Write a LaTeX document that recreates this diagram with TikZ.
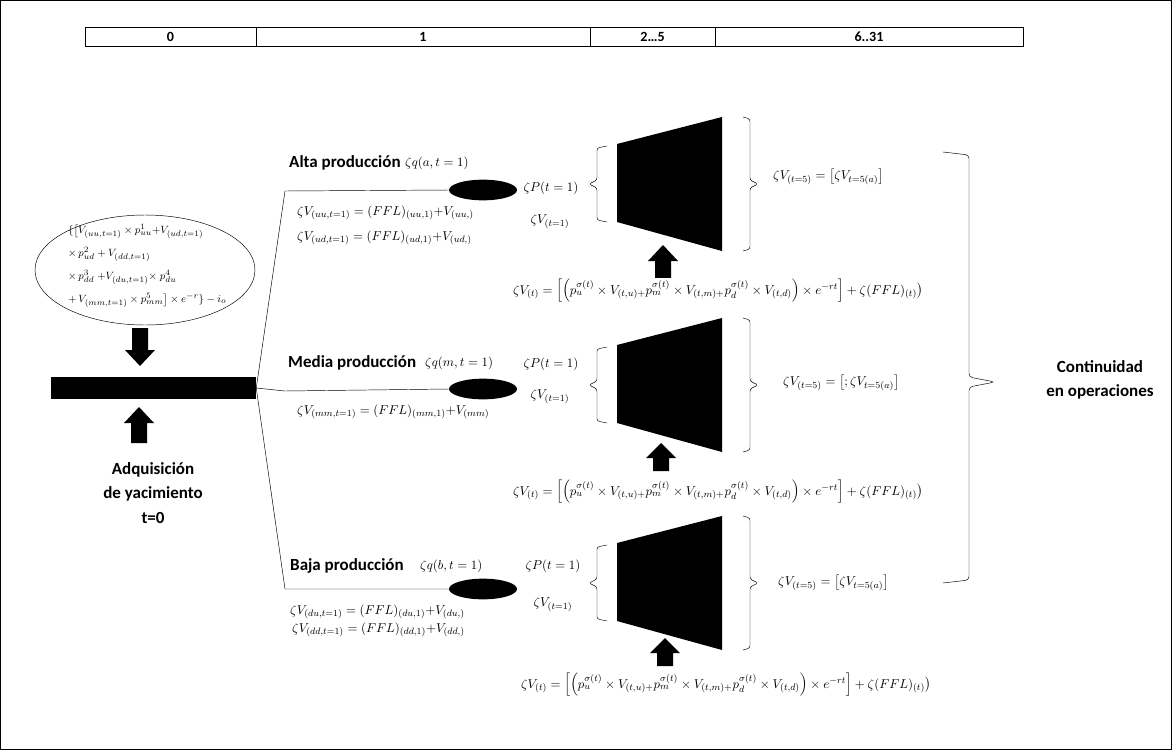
\documentclass[tikz,border=0pt]{standalone}
\usepackage{fontspec}
\setmainfont{Carlito}
\usepackage{amsmath}
\usetikzlibrary{shapes}
\usetikzlibrary{positioning}
\usetikzlibrary{calc}

\begin{document}
\begin{tikzpicture}[x=0.03cm, y=-0.03cm,
  lbl/.style={font=\fontsize{14.5}{21}\selectfont\bfseries, inner sep=0pt},
  frm/.style={font=\fontsize{11}{13}\selectfont, inner sep=0pt},
  sfrm/.style={font=\fontsize{9.5}{11}\selectfont, inner sep=0pt, anchor=west},
  blob/.style={ellipse, fill=black, minimum width=2.04cm, minimum height=0.62cm, inner sep=0pt},
  hcell/.style={inner sep=0pt, font=\fontsize{12}{14}\selectfont\bfseries}]

 \useasboundingbox (0,0) rectangle (1172,750);
 \draw (0.5,0.5) rectangle (1171.5,749.5);

 %header
 \foreach \a/\b/\name/\t in {85/256/h0/0, 256/590/h1/1, 590/715/h2/{2…5}, 715/1023/h3/{6..31}} {
        \draw[thick] (\a,27) rectangle (\b,46);
        \node[hcell] (\name) at ({(\a+\b)/2},36.5) {\t};
 }

 %level 0
 \node[draw, ellipse, minimum width=6.6cm, minimum height=3.3cm, inner sep=0pt] (ell0) at (145,270) {};
 \node[sfrm] (f1) at (68,231) {$\{\big[V_{(uu,t=1)}\times p^1_{uu}{+}V_{(ud,t=1)}$};
 \node[sfrm] (f2) at (68,254) {$\times\, p^2_{ud}+V_{(dd,t=1)}$};
 \node[sfrm] (f3) at (68,277) {$\times\, p^3_{dd}\;{+}V_{(du,t=1)}{\times}\; p^4_{du}$};
 \node[sfrm] (f4) at (68,300) {$+\,V_{(mm,t=1)}\times p^5_{mm}\big]\times e^{-r}\}-i_o$};
 \node[fill=black, minimum width=6.15cm, minimum height=0.66cm, inner sep=0pt] (bar) at (153.5,388) {};
 \node[lbl, align=center] (adq) at (153,493) {Adquisición\\de yacimiento\\t=0};

 %arrows
 \foreach \x/\tip/\base/\bot in {140/366/350/328, 139/407/423/443, 663/245/261/280, 661/443/458/471, 665/638/653/666} {
        \fill (\x-8,\bot) -- (\x-8,\base) -- (\x-15,\base) -- (\x,\tip) -- (\x+15,\base) -- (\x+8,\base) -- (\x+8,\bot) -- cycle;
 }

 %trapezoids and braces
 \foreach \dy in {0,201,399} {
        \fill (617,144+\dy) -- (722,117+\dy) -- (722,251+\dy) -- (617,222+\dy) -- cycle;
        \draw[rounded corners=2pt] (607,146+\dy) -- (597,148+\dy) -- (597,180+\dy) -- (589,184+\dy) -- (597,188+\dy) -- (597,220+\dy) -- (607,222+\dy);
        \draw[rounded corners=2pt] (743,117+\dy) -- (750,119+\dy) -- (750,180+\dy) -- (758,184+\dy) -- (750,188+\dy) -- (750,249+\dy) -- (743,251+\dy);
 }

 %1
 \def\dy{0}
 \coordinate (ka) at (285,191);
 \node[blob] (bla) at (483,190) {};
 \draw (bar.east) -- (ka) -- (bla.west);
 \node[lbl, anchor=west] (alta) at (289,163) {Alta producción};
 \node[frm, anchor=west] (qa) at (405,163) {$\zeta q(a,t=1)$};
 \node[frm, anchor=west] (fa1) at (297,213) {$\zeta V_{(uu,t=1)}=(FFL)_{(uu,1)}{+}V_{(uu,)}$};
 \node[frm, anchor=west] (fa2) at (297,238) {$\zeta V_{(ud,t=1)}=(FFL)_{(ud,1)}{+}V_{(ud,)}$};
 \node[frm] (pa) at (551,188) {$\zeta P(t=1)$};
 \node[frm] (va) at (550,222) {$\zeta V_{(t=1)}$};
 \node[frm, anchor=west] (ra) at (773,177) {$\zeta V_{(t=5)}=\big[\zeta V_{t=5(a)}\big]$};
 \node[frm, fill=white, inner sep=1pt] (ta) at (718,291) {$\zeta V_{(t)}=\Big[\Big(p_u^{\sigma(t)}\times V_{(t,u)+}p_m^{\sigma(t)}\times V_{(t,m)+}p_d^{\sigma(t)}\times V_{(t,d)}\Big)\times e^{-rt}\Big]+\zeta(FFL)_{(t)}\big)$};

 %2
 \def\dy{201}
 \coordinate (km) at (285,391);
 \node[blob] (blm) at (483,389) {};
 \draw (bar.east) -- (km) -- (blm.west);
 \node[lbl, anchor=west] (media) at (288,363) {Media producción};
 \node[frm, anchor=west] (qm) at (425,363) {$\zeta q(m,t=1)$};
 \node[frm, anchor=west] (fm1) at (297,412) {$\zeta V_{(mm,t=1)}=(FFL)_{(mm,1)}{+}V_{(mm)}$};
 \node[frm] (pm) at (551,364) {$\zeta P(t=1)$};
 \node[frm] (vm) at (550,397) {$\zeta V_{(t=1)}$};
 \node[frm, anchor=west] (rm) at (783,383) {$\zeta V_{(t=5)}=\big[;\zeta V_{t=5(a)}\big]$};
 \node[frm, fill=white, inner sep=1pt] (tm) at (718,492) {$\zeta V_{(t)}=\Big[\Big(p_u^{\sigma(t)}\times V_{(t,u)+}p_m^{\sigma(t)}\times V_{(t,m)+}p_d^{\sigma(t)}\times V_{(t,d)}\Big)\times e^{-rt}\Big]+\zeta(FFL)_{(t)}\big)$};

 %3
 \def\dy{399}
 \coordinate (kb) at (285,589);
 \node[blob] (blb) at (483,589) {};
 \draw (bar.east) -- (kb) -- (blb.west);
 \node[lbl, anchor=west] (baja) at (290,566) {Baja producción};
 \node[frm, anchor=west] (qb) at (420,566) {$\zeta q(b,t=1)$};
 \node[frm, anchor=west] (fb1) at (290,612) {$\zeta V_{(du,t=1)}=(FFL)_{(du,1)}{+}V_{(du,)}$};
 \node[frm, anchor=west] (fb2) at (292,630) {$\zeta V_{(dd,t=1)}=(FFL)_{(dd,1)}{+}V_{(dd,)}$};
 \node[frm] (pb) at (553,566) {$\zeta P(t=1)$};
 \node[frm] (vb) at (553,605) {$\zeta V_{(t=1)}$};
 \node[frm, anchor=west] (rb) at (778,583) {$\zeta V_{(t=5)}=\big[\zeta V_{t=5(a)}\big]$};
 \node[frm, fill=white, inner sep=1pt] (tb) at (726,685) {$\zeta V_{(t)}=\Big[\Big(p_u^{\sigma(t)}\times V_{(t,u)+}p_m^{\sigma(t)}\times V_{(t,m)+}p_d^{\sigma(t)}\times V_{(t,d)}\Big)\times e^{-rt}\Big]+\zeta(FFL)_{(t)}\big)$};

 %big brace
 \draw[rounded corners=3pt] (943,152) -- (969,155) -- (969,377) -- (995,382) -- (969,387) -- (969,580) -- (943,583);
 \node[lbl, align=center] (cont) at (1100,380) {Continuidad\\en operaciones};

\end{tikzpicture}
\end{document}
